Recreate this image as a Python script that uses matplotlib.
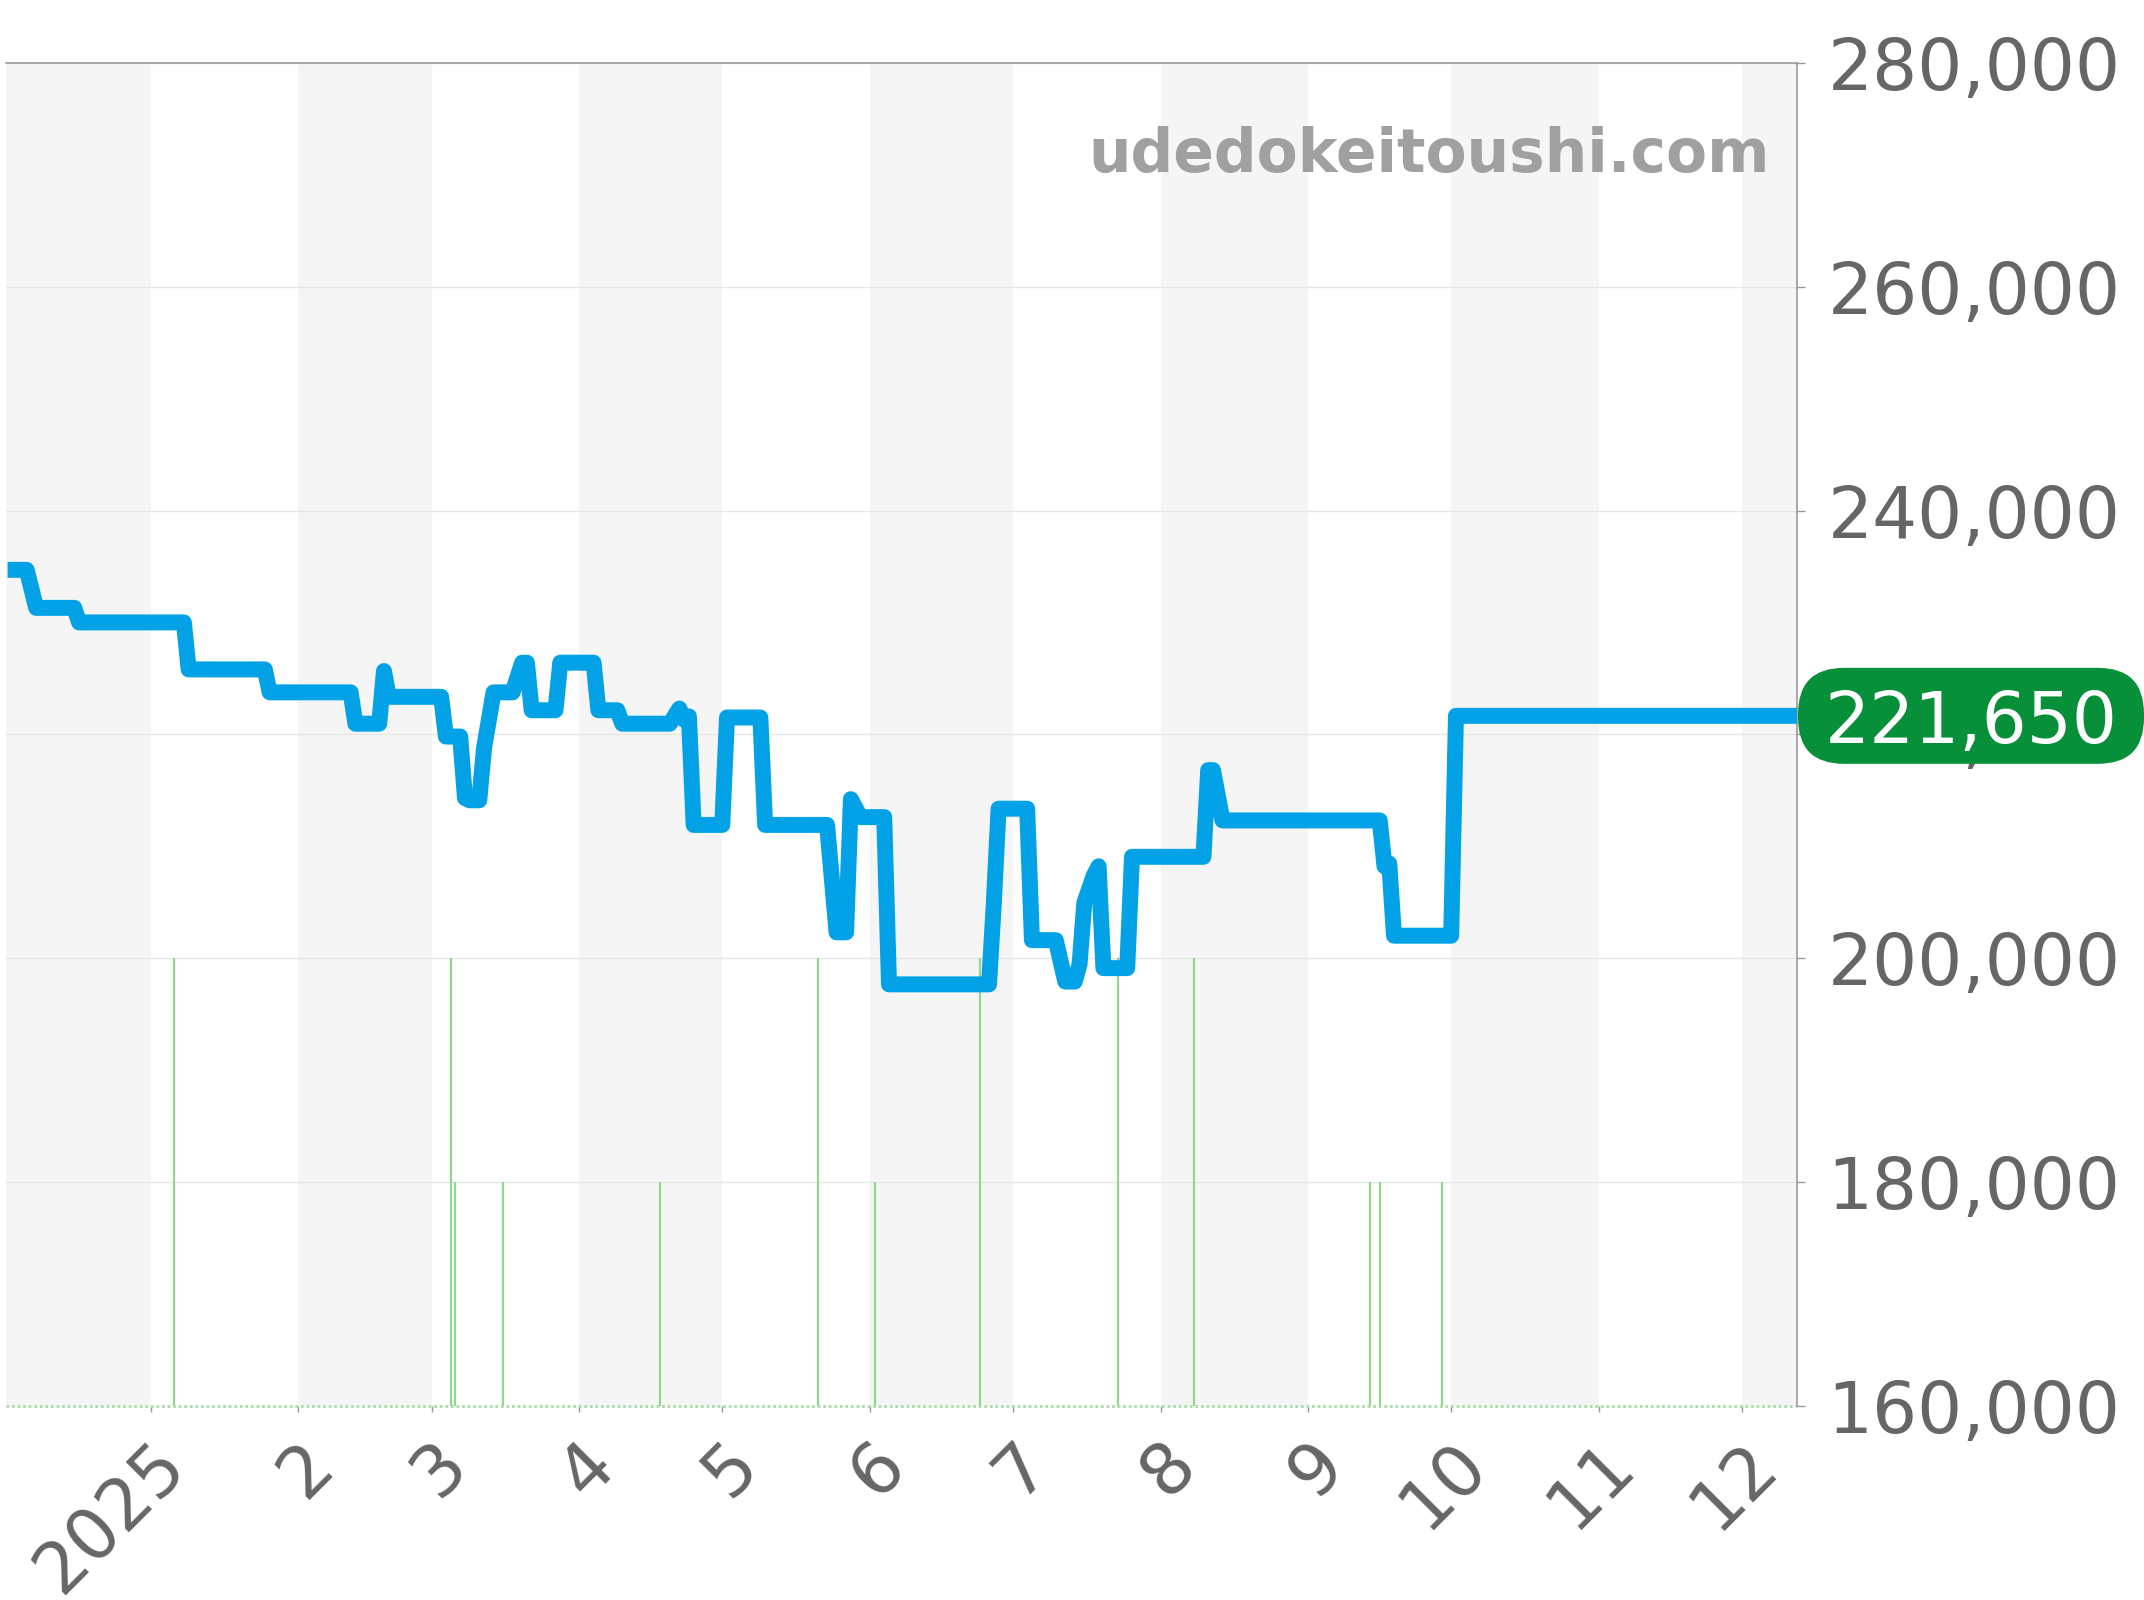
import matplotlib
matplotlib.use("Agg")
import matplotlib.pyplot as plt
import matplotlib.dates as mdates
import pandas as pd
from matplotlib.patches import FancyBboxPatch
from matplotlib.transforms import IdentityTransform
from matplotlib.ticker import FuncFormatter

# price history
price_dates = [
    "2024-12-02", "2024-12-06", "2024-12-08", "2024-12-16", "2024-12-17",
    "2025-01-08", "2025-01-09", "2025-01-25", "2025-01-26", "2025-02-12",
    "2025-02-13", "2025-02-18", "2025-02-19", "2025-02-20", "2025-03-03",
    "2025-03-04", "2025-03-07", "2025-03-08", "2025-03-09", "2025-03-11",
    "2025-03-12", "2025-03-14", "2025-03-18", "2025-03-20", "2025-03-21",
    "2025-03-22", "2025-03-27", "2025-03-28", "2025-04-04", "2025-04-05",
    "2025-04-09", "2025-04-10", "2025-04-20", "2025-04-22", "2025-04-23",
    "2025-04-24", "2025-04-25", "2025-05-01", "2025-05-02", "2025-05-09",
    "2025-05-10", "2025-05-23", "2025-05-25", "2025-05-27", "2025-05-28",
    "2025-05-30", "2025-06-04", "2025-06-05", "2025-06-26", "2025-06-27",
    "2025-06-28", "2025-07-04", "2025-07-05", "2025-07-10", "2025-07-12",
    "2025-07-14", "2025-07-15", "2025-07-16", "2025-07-18", "2025-07-19",
    "2025-07-20", "2025-07-25", "2025-07-26", "2025-08-10", "2025-08-11",
    "2025-08-12", "2025-08-14", "2025-09-16", "2025-09-17", "2025-09-18",
    "2025-09-19", "2025-10-01", "2025-10-02", "2025-12-12 14:00",
]
price_values = [
    234700, 234700, 231300, 231300, 230000,
    230000, 225800, 225800, 223750, 223750,
    220950, 220950, 225650, 223350, 223350,
    219800, 219800, 214300, 214100, 214100,
    218750, 223750, 223750, 226400, 226400,
    222150, 222150, 226400, 226400, 222150,
    222150, 220950, 220950, 222300, 221300,
    221600, 211900, 211900, 221500, 221500,
    211900, 211900, 202300, 202300, 214200,
    212600, 212600, 197650, 197650, 204900,
    213350, 213350, 201600, 201600, 197900,
    197900, 199450, 204950, 207400, 208200,
    199100, 199100, 209050, 209050, 216800,
    216800, 212300, 212300, 208200, 208450,
    202000, 202000, 221650, 221650,
]

# green volume marks
vol_dates = [
    "2025-01-06", "2025-03-05", "2025-03-06", "2025-03-16", "2025-04-18",
    "2025-05-21", "2025-06-02", "2025-06-24", "2025-07-23", "2025-08-08",
    "2025-09-14", "2025-09-16", "2025-09-29",
]
vol_tops = [
    200000, 200000, 180000, 180000, 180000,
    200000, 180000, 200000, 200000, 200000,
    180000, 180000, 180000,
]

y_ticks = [160000, 180000, 200000, 220000, 240000, 260000, 280000]
month_ticks = ["2025-01-01", "2025-02-01", "2025-03-01", "2025-04-01", "2025-05-01", "2025-06-01",
               "2025-07-01", "2025-08-01", "2025-09-01", "2025-10-01", "2025-11-01", "2025-12-01"]
month_labels = ["2025", "2", "3", "4", "5", "6", "7", "8", "9", "10", "11", "12"]
last_price = 221650
watermark = "udedokeitoushi.com"

W, H, DPI = 2144, 1600, 100
fig = plt.figure(figsize=(W / DPI, H / DPI), dpi=DPI)
ax = fig.add_axes([6 / W, 1 - 1405.6 / H, (1797 - 6) / W, (1405.6 - 63) / H])

x_left = pd.Timestamp("2024-12-01 16:00")
x_right = pd.Timestamp("2025-12-12 14:00")

# alternating month bands
months = pd.date_range("2024-12-01", "2026-01-01", freq="MS")
for i in range(len(months) - 1):
    if i % 2 == 0:
        ax.axvspan(months[i], months[i + 1], color="#f5f5f5", lw=0, zorder=0)

ax.vlines(pd.to_datetime(vol_dates), 160000, vol_tops, color="#90d890", lw=1.6, zorder=2)
ax.axhline(160000, color="#a8dca8", lw=2, ls=(0, (1, 1)), zorder=2, clip_on=False)

ax.plot(pd.to_datetime(price_dates, format="mixed"), price_values, color="#03a1e6", lw=11.5,
        solid_joinstyle="round", solid_capstyle="butt", zorder=3)

ax.set_xlim(x_left, x_right)
ax.set_ylim(160000, 280000)

ax.set_yticks(y_ticks)
ax.yaxis.set_major_formatter(FuncFormatter(lambda v, p: f"{int(v):,}"))
ax.yaxis.tick_right()
ax.yaxis.grid(True, color="#e6e6e6", lw=1)
ax.set_axisbelow(True)
ax.tick_params(axis="y", labelsize=51, labelcolor="#666666", color="#999999",
               length=5.8, width=1, pad=16)

ax.set_xticks(pd.to_datetime(month_ticks))
ax.set_xticklabels(month_labels, rotation=45, ha="right", va="top", rotation_mode="anchor")
ax.tick_params(axis="x", labelsize=51, labelcolor="#666666", color="#999999",
               length=4.3, width=1, pad=13)

for s in ["left", "bottom"]:
    ax.spines[s].set_visible(False)
for s in ["top", "right"]:
    ax.spines[s].set_color("#999999")
    ax.spines[s].set_linewidth(1.2)

fig.text(1770 / W, 1 - 171.7 / H, watermark, ha="right", va="baseline",
         fontsize=43, fontweight="bold", color="#a0a0a0")

# last price badge on the right axis
px, py = ax.transData.transform((mdates.date2num(x_right), last_price))
badge = FancyBboxPatch((px + 1, py - 48), W - px - 1, 96,
                       boxstyle="round,pad=0,rounding_size=46",
                       transform=IdentityTransform(), fc="#088f3a", ec="none", zorder=5)
fig.add_artist(badge)
fig.text(px + 28, py, f"{last_price:,}", transform=IdentityTransform(),
         ha="left", va="center_baseline", fontsize=51, color="white", zorder=6)

fig.savefig("out.png", dpi=DPI)
